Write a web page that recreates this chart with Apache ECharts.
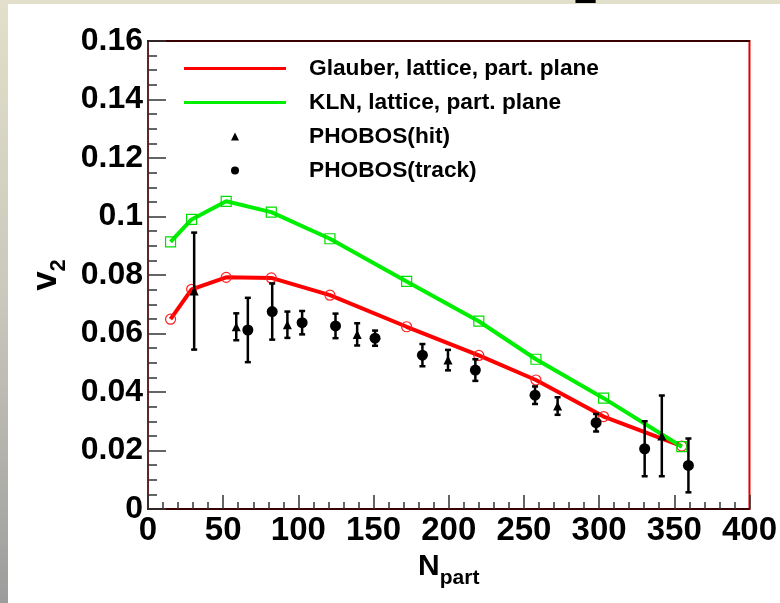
<!DOCTYPE html>
<html>
<head>
<meta charset="UTF-8">
<title>v2 vs Npart</title>
<script src="https://cdn.jsdelivr.net/npm/echarts@6/dist/echarts.min.js"></script>
<style>
    html, body { margin: 0; padding: 0; }
    body {
        width: 780px; height: 603px; position: relative; overflow: hidden;
        background: linear-gradient(to bottom, #e2dfca 0%, #cac8bc 50%, #9c9c9c 100%);
    }
    .panel { position: absolute; left: 8px; top: 4px; width: 772px; height: 599px; background: #fff; }
    #chart { position: absolute; left: 0; top: 0; width: 780px; height: 603px; }
</style>
</head>
<body>
<div class="panel"></div>
<div id="chart"></div>
<script>
// model curves (same Npart points for both)
const modelNpart = [15, 29, 52, 82, 121, 172, 220, 258, 303, 355];
const glauberV2 = [0.0649, 0.0751, 0.0792, 0.0790, 0.0731, 0.0623, 0.0525, 0.0441, 0.0316, 0.0215];
const klnV2 = [0.0913, 0.0990, 0.1052, 0.1015, 0.0924, 0.0778, 0.0642, 0.0512, 0.0379, 0.0213];

// PHOBOS data: Npart, v2, error
const hitNpart = [30.7, 58.7, 92.7, 139.1, 199.5, 272.4, 341.7];
const hitV2 = [0.0745, 0.0623, 0.0630, 0.0597, 0.0509, 0.0352, 0.0250];
const hitErr = [0.0200, 0.0046, 0.0045, 0.0038, 0.0035, 0.0030, 0.0138];

const trackNpart = [66.4, 82.6, 102.5, 124.7, 151.0, 182.5, 217.7, 257.4, 298.0, 330.3, 359.4];
const trackV2 = [0.0612, 0.0675, 0.0637, 0.0626, 0.0584, 0.0526, 0.0475, 0.0389, 0.0295, 0.0206, 0.0149];
const trackErr = [0.0110, 0.0096, 0.0040, 0.0042, 0.0026, 0.0038, 0.0037, 0.0030, 0.0030, 0.0094, 0.0092];

const xTicks = { min: 0, max: 400, step: 50 };
const yTicks = { min: 0, max: 0.16, step: 0.02 };

const FONT = "'Liberation Sans', Arial, sans-serif";

function pairs(xs, ys) { return xs.map((x, i) => [x, ys[i]]); }
function triples(xs, ys, es) { return xs.map((x, i) => [x, ys[i], es[i]]); }

function errorBars(params, api) {
    const x = api.value(0), y = api.value(1), e = api.value(2);
    const top = api.coord([x, y + e]);
    const bot = api.coord([x, y - e]);
    const st = { stroke: '#000', lineWidth: 2.5 };
    const cw = 3;
    return {
        type: 'group',
        children: [
            { type: 'line', shape: { x1: top[0], y1: top[1], x2: bot[0], y2: bot[1] }, style: st },
            { type: 'line', shape: { x1: top[0] - cw, y1: top[1], x2: top[0] + cw, y2: top[1] }, style: st },
            { type: 'line', shape: { x1: bot[0] - cw, y1: bot[1], x2: bot[0] + cw, y2: bot[1] }, style: st }
        ]
    };
}

const chart = echarts.init(document.getElementById('chart'));
chart.setOption({
    animation: false,
    backgroundColor: 'transparent',
    grid: { left: 148, top: 41, right: 27, bottom: 94, show: true, borderColor: '#e00000', borderWidth: 2 },
    legend: {
        orient: 'vertical',
        left: 184, top: 57,
        padding: 0,
        itemWidth: 102, itemHeight: 8, itemGap: 11,
        symbolKeepAspect: true,
        textStyle: { fontFamily: FONT, fontWeight: 'bold', fontSize: 22.7, color: '#000', padding: [0, 0, 0, 18] },
        data: [
            { name: 'Glauber, lattice, part. plane', icon: 'path://M0 0L100 0L100 3L0 3Z', itemStyle: { color: '#ff0000', borderWidth: 0 } },
            { name: 'KLN, lattice, part. plane', icon: 'path://M0 0L100 0L100 3L0 3Z', itemStyle: { color: '#00ee00', borderWidth: 0 } },
            { name: 'PHOBOS(hit)', icon: 'path://M0 10L5 0L10 10Z', itemStyle: { color: '#000', borderWidth: 0 } },
            { name: 'PHOBOS(track)', icon: 'path://M0 5A5 5 0 1 1 10 5A5 5 0 1 1 0 5Z', itemStyle: { color: '#000', borderWidth: 0 } }
        ]
    },
    graphic: [
        { type: 'text', left: 574, top: -30, z: 10,
          style: { text: '2', fontFamily: FONT, fontWeight: 'bold', fontSize: 42, fill: '#000' } }
    ],
    xAxis: [{
        type: 'value', min: xTicks.min, max: xTicks.max, interval: xTicks.step,
        name: '{n|N}{s|part}', nameLocation: 'middle', nameGap: 40,
        nameTextStyle: {
            rich: {
                n: { fontFamily: FONT, fontWeight: 'bold', fontSize: 30, lineHeight: 30, verticalAlign: 'top', color: '#000' },
                s: { fontFamily: FONT, fontWeight: 'bold', fontSize: 21, lineHeight: 21, verticalAlign: 'top', padding: [16, 0, 0, 0], color: '#000' }
            }
        },
        axisLine: { show: true, onZero: false, lineStyle: { color: '#000', width: 1.5 } },
        axisTick: { show: true, inside: true, length: 14, lineStyle: { color: '#333', width: 1.5 } },
        minorTick: { show: true, splitNumber: 5, length: 7, lineStyle: { color: '#333', width: 1.5 } },
        axisLabel: { fontFamily: FONT, fontWeight: 'bold', fontSize: 33, color: '#000', margin: 5 },
        splitLine: { show: false }
    }, {
        type: 'value', position: 'top', min: xTicks.min, max: xTicks.max,
        axisLine: { show: true, onZero: false, lineStyle: { color: '#000', width: 1.5 } },
        axisTick: { show: false }, axisLabel: { show: false }, splitLine: { show: false }
    }],
    yAxis: {
        type: 'value', min: yTicks.min, max: yTicks.max, interval: yTicks.step,
        name: '{v|v}{s|2}', nameLocation: 'middle', nameRotate: 90, nameGap: 79,
        nameTextStyle: {
            rich: {
                v: { fontFamily: FONT, fontWeight: 'bold', fontSize: 35, lineHeight: 35, verticalAlign: 'top', color: '#000' },
                s: { fontFamily: FONT, fontWeight: 'bold', fontSize: 22, lineHeight: 22, verticalAlign: 'top', padding: [19, 0, 0, 0], color: '#000' }
            }
        },
        axisLine: { show: true, onZero: false, lineStyle: { color: '#333', width: 1.5 } },
        axisTick: { show: true, inside: true, length: 18, lineStyle: { color: '#333', width: 1.5 } },
        minorTick: { show: true, splitNumber: 4, length: 9, lineStyle: { color: '#333', width: 1.5 } },
        axisLabel: { fontFamily: FONT, fontWeight: 'bold', fontSize: 32, color: '#000', margin: 5 },
        splitLine: { show: false }
    },
    series: [
        {
            name: 'Glauber, lattice, part. plane', type: 'line',
            data: pairs(modelNpart, glauberV2),
            symbol: 'circle', symbolSize: 10,
            lineStyle: { color: '#ff0000', width: 4 },
            itemStyle: { color: 'rgba(0,0,0,0)', borderColor: '#ff2020', borderWidth: 1.2 },
            z: 2
        },
        {
            name: 'KLN, lattice, part. plane', type: 'line',
            data: pairs(modelNpart, klnV2),
            symbol: 'rect', symbolSize: 10,
            lineStyle: { color: '#00ee00', width: 4 },
            itemStyle: { color: 'rgba(0,0,0,0)', borderColor: '#00dd00', borderWidth: 1.2 },
            z: 2
        },
        {
            name: 'PHOBOS(hit)', type: 'custom', renderItem: errorBars,
            data: triples(hitNpart, hitV2, hitErr), z: 4, legendHoverLink: false
        },
        {
            name: 'PHOBOS(track)', type: 'custom', renderItem: errorBars,
            data: triples(trackNpart, trackV2, trackErr), z: 4, legendHoverLink: false
        },
        {
            name: 'PHOBOS(hit)', type: 'scatter',
            data: pairs(hitNpart, hitV2),
            symbol: 'triangle', symbolSize: 9,
            itemStyle: { color: '#000', opacity: 1 }, z: 5
        },
        {
            name: 'PHOBOS(track)', type: 'scatter',
            data: pairs(trackNpart, trackV2),
            symbol: 'circle', symbolSize: 11,
            itemStyle: { color: '#000', opacity: 1 }, z: 5
        }
    ]
});
</script>
</body>
</html>
